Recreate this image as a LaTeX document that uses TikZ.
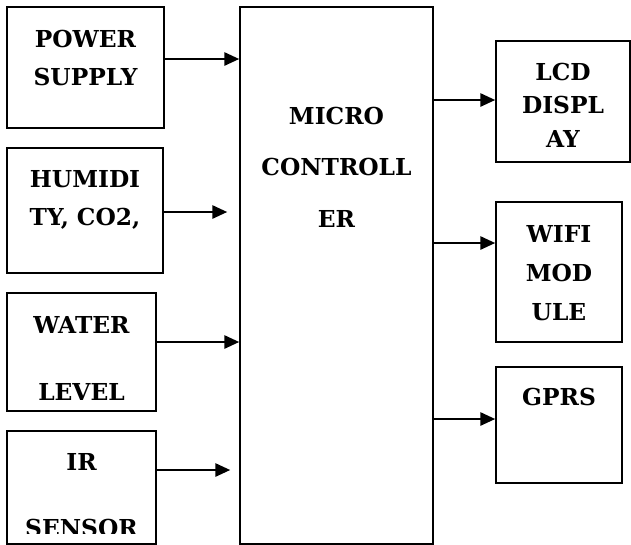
\documentclass[tikz,border=0pt]{standalone}
\usepackage{fontspec}
\setmainfont{DejaVu Serif}
\usetikzlibrary{arrows.meta}

\tikzset{
  blk/.style={draw,line width=1.3pt,inner sep=0pt},
  lbl/.style={anchor=base,align=center,inner sep=0pt,font=\bfseries\fontsize{17.5}{#1}\selectfont},
  arr/.style={line width=1pt,-{Triangle[length=11pt,width=10pt]}}
}

\begin{document}
\begin{tikzpicture}[x=.75pt,y=-.75pt]
\useasboundingbox (0,0) rectangle (631,544);
\clip (0,0) rectangle (631,544);
% blocks
\node[blk,minimum width=117.75pt,minimum height=90.75pt] (pwr) at (85.5,67.5) {};
\node[blk,minimum width=117pt,minimum height=93.75pt] (hum) at (85,210.5) {};
\node[blk,minimum width=111.75pt,minimum height=88.5pt] (wat) at (81.5,352) {};
\node[blk,minimum width=111.75pt,minimum height=84.75pt] (ir) at (81.5,487.5) {};
\node[blk,minimum width=144.75pt,minimum height=402.75pt] (mcu) at (336.5,275.5) {};
\node[blk,minimum width=100.5pt,minimum height=90.75pt] (lcd) at (563,101.5) {};
\node[blk,minimum width=94.5pt,minimum height=105pt] (wifi) at (559,272) {};
\node[blk,minimum width=94.5pt,minimum height=87pt] (gprs) at (559,425) {};
% texts (anchored on the last line)
\node[lbl=28.5pt] (pwrtxt) at (85.5,85) {POWER\\SUPPLY};
\node[lbl=28.5pt] (humtxt) at (85,225) {HUMIDI\\TY, CO2,};
\node[lbl=50.25pt] (wattxt) at (81.5,400) {WATER\\LEVEL};
\begin{scope}
\clip (ir.north west) rectangle (ir.east |- 0,533);
\node[lbl=49.5pt] (irtxt) at (81.5,536) {IR\\SENSOR};
\end{scope}
\node[lbl=38.6pt] (mcutxt) at (336.5,227) {MICRO\\CONTROLL\\ER};
\node[lbl=25.1pt] (lcdtxt) at (563,147) {LCD\\DISPL\\AY};
\node[lbl=29.25pt] (wifitxt) at (559,320) {WIFI\\MOD\\ULE};
\node[lbl=28.5pt] (gprstxt) at (559,405) {GPRS};
% connectors
\draw[arr] (pwr.east |- 0,59) -- (mcu.west |- 0,59);
\draw[arr,shorten >=9pt] (hum.east |- 0,212) -- (mcu.west |- 0,212);
\draw[arr] (wat.east |- 0,342) -- (mcu.west |- 0,342);
\draw[arr,shorten >=6.75pt] (ir.east |- 0,470) -- (mcu.west |- 0,470);
\draw[arr] (mcu.east |- 0,100) -- (lcd.west |- 0,100);
\draw[arr] (mcu.east |- 0,243) -- (wifi.west |- 0,243);
\draw[arr] (mcu.east |- 0,419) -- (gprs.west |- 0,419);
\end{tikzpicture}
\end{document}
